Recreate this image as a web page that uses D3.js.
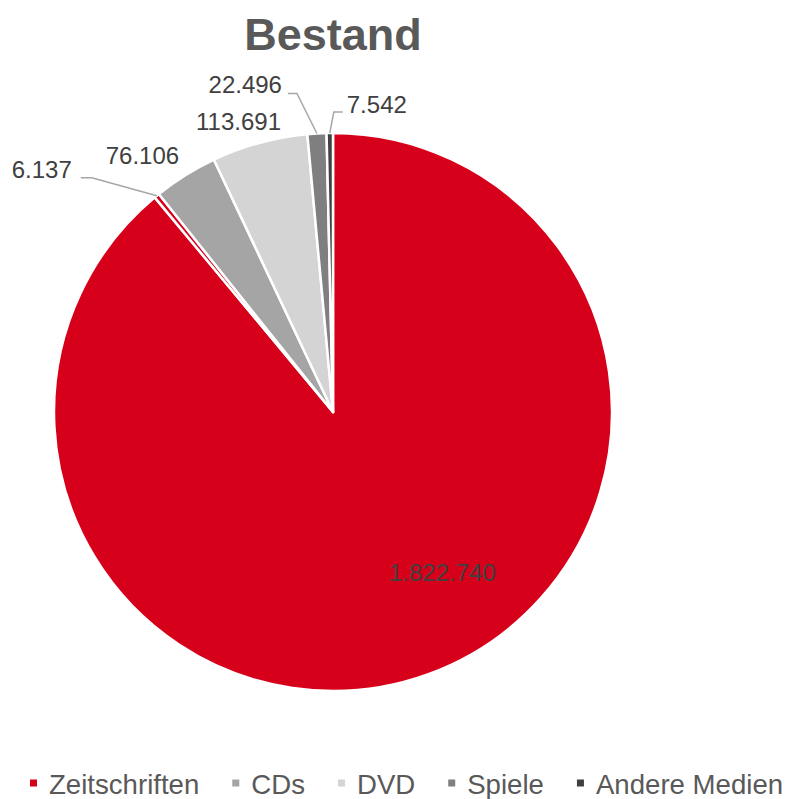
<!DOCTYPE html>
<html>
<head>
<meta charset="utf-8">
<script src="https://cdn.jsdelivr.net/npm/d3@7"></script>
<style>
  html, body { margin: 0; padding: 0; background: #fff; }
  svg { display: block; font-family: "Liberation Sans", Arial, sans-serif; }
</style>
</head>
<body>
<svg id="chart" width="791" height="799"></svg>
<script>
// ---- data ----
const categories = ["Zeitschriften", "Sonstige", "CDs", "DVD", "Spiele", "Andere Medien"];
const values = [1822740, 6137, 76106, 113691, 22496, 7542];
const valueLabels = ["1.822.740", "6.137", "76.106", "113.691", "22.496", "7.542"];
const legendCategories = ["Zeitschriften", "CDs", "DVD", "Spiele", "Andere Medien"];
const title = "Bestand";

// ---- styles / layout ----
const colors = {
  "Zeitschriften": "#D7001B",
  "Sonstige": "#D7001B",
  "CDs": "#A5A5A5",
  "DVD": "#D4D4D4",
  "Spiele": "#7F7F7F",
  "Andere Medien": "#404040"
};
// label placement relative to slice anchor (outer arc midpoint, or centroid for inside)
const labelLayout = [
  { inside: true,  dx: 62,  dy: 38,  anchor: "middle" },
  { dx: -85, dy: -18, anchor: "end",   leader: [[-65, -18], [-76, -18]] },
  { dx: -43, dy: -11, anchor: "middle" },
  { dx: -21, dy: -13, anchor: "middle" },
  { dx: -35, dy: -40, anchor: "end",   leader: [[-20, -40], [-29, -40]] },
  { dx: 17,  dy: -20, anchor: "start", leader: [[4, -21], [13, -21]] }
];

const svg = d3.select("#chart");
const cx = 333, cy = 412, R = 279;

svg.append("text")
  .attr("x", cx).attr("y", 50)
  .attr("text-anchor", "middle")
  .attr("font-size", 45).attr("font-weight", "bold")
  .attr("fill", "#595959")
  .text(title);

const pie = d3.pie().sort(null).value(d => d.value);
const data = pie(categories.map((c, i) => ({ cat: c, value: values[i], label: valueLabels[i] })));
const arc = d3.arc().innerRadius(0).outerRadius(R);

const g = svg.append("g").attr("transform", `translate(${cx},${cy})`);
g.selectAll("path.slice").data(data).join("path")
  .attr("class", "slice")
  .attr("d", arc)
  .attr("fill", d => colors[d.data.cat])
  .attr("stroke", "#fff")
  .attr("stroke-width", 2.5)
  .attr("stroke-linejoin", "round");

const edgeArc = d3.arc().innerRadius(R).outerRadius(R);
data.forEach((d, i) => {
  const L = labelLayout[i];
  const base = L.inside ? arc.centroid(d) : edgeArc.centroid(d);
  if (L.leader) {
    const pts = [base, ...L.leader.map(p => [base[0] + p[0], base[1] + p[1]])];
    g.append("path")
      .attr("d", d3.line()(pts))
      .attr("fill", "none")
      .attr("stroke", "#A6A6A6")
      .attr("stroke-width", 1.5);
  }
  g.append("text")
    .attr("x", base[0] + L.dx)
    .attr("y", base[1] + L.dy)
    .attr("text-anchor", L.anchor)
    .attr("font-size", 24)
    .attr("fill", "#404040")
    .text(d.data.label);
});

// ---- legend ----
const legend = svg.append("g").attr("transform", "translate(30,794)");
let x = 0;
legendCategories.forEach(c => {
  const item = legend.append("g").attr("transform", `translate(${x},0)`);
  item.append("rect").attr("x", 0).attr("y", -14.5).attr("width", 7).attr("height", 7)
    .attr("fill", colors[c]);
  const t = item.append("text").attr("x", 19).attr("y", 0)
    .attr("font-size", 27.6).attr("fill", "#595959").text(c);
  x += 19 + t.node().getComputedTextLength() + 33;
});
</script>
</body>
</html>
